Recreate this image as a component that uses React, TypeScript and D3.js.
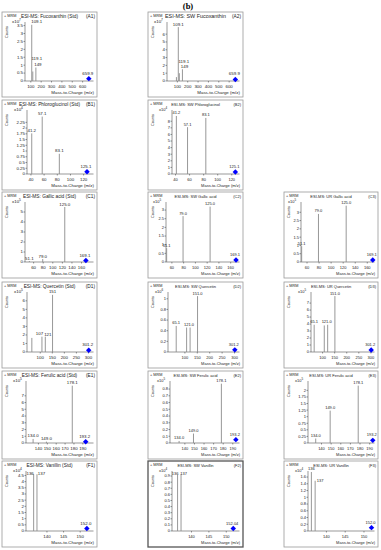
import * as d3 from "d3";

type Peak = { mz: number; v: number; label?: string };

// (A) fucoxanthin
const a1Peaks: Peak[] = [
  { mz: 109.1, v: 3.55, label: "109.1" },
  { mz: 119.1, v: 0.6, label: "119.1" },
  { mz: 149, v: 0.85, label: "149" },
];
const a1Parent: Peak = { mz: 659.9, v: 0.15, label: "659.9" };
const a2Peaks: Peak[] = [
  { mz: 91, v: 0.5 },
  { mz: 109.1, v: 6.9, label: "109.1" },
  { mz: 119.1, v: 1.0, label: "119.1" },
  { mz: 149, v: 1.5, label: "149" },
];
const a2Parent: Peak = { mz: 659.9, v: 0.2, label: "659.9" };

// (B) phloroglucinol
const b1Peaks: Peak[] = [
  { mz: 41.2, v: 1.77, label: "41.2" },
  { mz: 57.1, v: 2.5, label: "57.1" },
  { mz: 83.1, v: 0.88, label: "83.1" },
];
const b1Parent: Peak = { mz: 125.1, v: 0.1, label: "125.1" };
const b2Peaks: Peak[] = [
  { mz: 41.2, v: 8.8, label: "41.2" },
  { mz: 57.1, v: 7.1, label: "57.1" },
  { mz: 83.1, v: 8.5, label: "83.1" },
];
const b2Parent: Peak = { mz: 125.1, v: 0.3, label: "125.1" };

// (C) gallic acid
const c1Peaks: Peak[] = [
  { mz: 51.1, v: 0.1, label: "51.1" },
  { mz: 79.0, v: 0.3, label: "79.0" },
  { mz: 125.0, v: 5.5, label: "125.0" },
];
const c1Parent: Peak = { mz: 169.1, v: 0.15, label: "169.1" };
const c2Peaks: Peak[] = [
  { mz: 51.1, v: 0.8, label: "51.1" },
  { mz: 79.0, v: 2.65, label: "79.0" },
  { mz: 125.0, v: 3.2, label: "125.0" },
];
const c2Parent: Peak = { mz: 169.1, v: 0.12, label: "169.1" };
const c3Peaks: Peak[] = [
  { mz: 51.1, v: 0.95, label: "51.1" },
  { mz: 79.0, v: 2.9, label: "79.0" },
  { mz: 125.0, v: 3.4, label: "125.0" },
];
const c3Parent: Peak = { mz: 169.1, v: 0.12, label: "169.1" };

// (D) quercetin
const d1Peaks: Peak[] = [
  { mz: 65.1, v: 1.65 },
  { mz: 107, v: 1.8, label: "107" },
  { mz: 121, v: 1.8, label: "121" },
  { mz: 151, v: 6.7, label: "151" },
];
const d1Parent: Peak = { mz: 301.2, v: 0.2, label: "301.2" };
const d2Peaks: Peak[] = [
  { mz: 65.1, v: 0.49, label: "65.1" },
  { mz: 107, v: 0.46 },
  { mz: 121.0, v: 0.46, label: "121.0" },
  { mz: 151.0, v: 1.05, label: "151.0" },
];
const d2Parent: Peak = { mz: 301.2, v: 0.04, label: "301.2" };
const d3Peaks: Peak[] = [
  { mz: 65.1, v: 3.9, label: "65.1" },
  { mz: 107, v: 3.8 },
  { mz: 121.0, v: 3.9, label: "121.0" },
  { mz: 151.0, v: 8.0, label: "151.0" },
];
const d3Parent: Peak = { mz: 301.2, v: 0.3, label: "301.2" };

// (E) ferulic acid
const e1Peaks: Peak[] = [
  { mz: 134.0, v: 0.6, label: "134.0" },
  { mz: 149.0, v: 0.2, label: "149.0" },
  { mz: 178.1, v: 8.5, label: "178.1" },
];
const e1Parent: Peak = { mz: 193.2, v: 0.2, label: "193.2" };
const e2Peaks: Peak[] = [
  { mz: 134.0, v: 0.03, label: "134.0" },
  { mz: 149.0, v: 0.14, label: "149.0" },
  { mz: 178.1, v: 0.88, label: "178.1" },
];
const e2Parent: Peak = { mz: 193.2, v: 0.05, label: "193.2" };
const e3Peaks: Peak[] = [
  { mz: 134.0, v: 0.17, label: "134.0" },
  { mz: 149.0, v: 1.23, label: "149.0" },
  { mz: 178.1, v: 2.18, label: "178.1" },
];
const e3Parent: Peak = { mz: 193.2, v: 0.1, label: "193.2" };

// (F) vanillin
const f1Peaks: Peak[] = [
  { mz: 136, v: 4.6, label: "136" },
  { mz: 137, v: 4.6, label: "137" },
];
const f1Parent: Peak = { mz: 152.0, v: 0.2, label: "152.0" };
const f2Peaks: Peak[] = [
  { mz: 136, v: 0.92, label: "136" },
  { mz: 137, v: 0.93, label: "137" },
];
const f2Parent: Peak = { mz: 152.0, v: 0.04, label: "152.04" };
const f3Peaks: Peak[] = [
  { mz: 136, v: 1.75, label: "136" },
  { mz: 137, v: 1.49, label: "137" },
];
const f3Parent: Peak = { mz: 152.0, v: 0.1, label: "152.0" };

// axis ticks
const xTicksA = [100, 200, 300, 400, 500, 600];
const xTicksB = [40, 60, 80, 100, 120];
const xTicksC = [60, 80, 100, 120, 140, 160];
const xTicksD = [100, 150, 200, 250, 300];
const xTicksE = [140, 150, 160, 170, 180, 190];
const xTicksF = [140, 145, 150];
const yTicksA1 = [0, 0.5, 1, 1.5, 2, 2.5, 3, 3.5];
const yTicksA2 = [0, 1, 2, 3, 4, 5, 6];
const yTicksB1 = [0, 0.25, 0.5, 0.75, 1, 1.25, 1.5, 1.75, 2, 2.25];
const yTicksB2 = [0, 1, 2, 3, 4, 5, 6, 7, 8];
const yTicksC1 = [0, 1, 2, 3, 4, 5];
const yTicksC2 = [0, 0.5, 1, 1.5, 2, 2.5, 3];
const yTicksD1 = [0, 1, 2, 3, 4, 5, 6];
const yTicksD2 = [0, 0.2, 0.4, 0.6, 0.8, 1];
const yTicksD3 = [0, 1, 2, 3, 4, 5, 6, 7];
const yTicksE1 = [0, 1, 2, 3, 4, 5, 6, 7];
const yTicksE2 = [0, 0.1, 0.2, 0.3, 0.4, 0.5, 0.6, 0.7, 0.8];
const yTicksE3 = [0, 0.25, 0.5, 0.75, 1, 1.25, 1.5, 1.75, 2];
const yTicksF1 = [0, 0.5, 1, 1.5, 2, 2.5, 3, 3.5, 4, 4.5];
const yTicksF2 = [0, 0.1, 0.2, 0.3, 0.4, 0.5, 0.6, 0.7, 0.8, 0.9];
const yTicksF3 = [0, 0.2, 0.4, 0.6, 0.8, 1, 1.2, 1.4, 1.6];

interface PanelSpec {
  id: string;
  row: number;
  col: number;
  title: string;
  exp: number;
  xDomain: [number, number];
  xTicks: number[];
  yMax: number;
  yTicks: number[];
  peaks: Peak[];
  parent: Peak;
}

const panels: PanelSpec[] = [
  { id: "A1", row: 0, col: 0, title: "ESI-MS: Fucoxanthin (Std)", exp: 7, xDomain: [44, 705], xTicks: xTicksA, yMax: 3.6, yTicks: yTicksA1, peaks: a1Peaks, parent: a1Parent },
  { id: "A2", row: 0, col: 1, title: "ESI-MS: SW Fucoxanthin", exp: 7, xDomain: [0, 700], xTicks: xTicksA, yMax: 7.3, yTicks: yTicksA2, peaks: a2Peaks, parent: a2Parent },
  { id: "B1", row: 1, col: 0, title: "ESI-MS: Phloroglucinol (Std)", exp: 4, xDomain: [34, 135], xTicks: xTicksB, yMax: 2.7, yTicks: yTicksB1, peaks: b1Peaks, parent: b1Parent },
  { id: "B2", row: 1, col: 1, title: "ESI-MS: SW Phloroglucinol", exp: 4, xDomain: [35, 131], xTicks: xTicksB, yMax: 9.4, yTicks: yTicksB2, peaks: b2Peaks, parent: b2Parent },
  { id: "C1", row: 2, col: 0, title: "ESI-MS: Gallic acid (Std)", exp: 5, xDomain: [42, 185], xTicks: xTicksC, yMax: 5.8, yTicks: yTicksC1, peaks: c1Peaks, parent: c1Parent },
  { id: "C2", row: 2, col: 1, title: "ESI-MS: SW Gallic acid", exp: 5, xDomain: [50, 175], xTicks: xTicksC, yMax: 3.35, yTicks: yTicksC2, peaks: c2Peaks, parent: c2Parent },
  { id: "C3", row: 2, col: 2, title: "ESI-MS: UR Gallic acid", exp: 5, xDomain: [50, 172], xTicks: xTicksC, yMax: 3.5, yTicks: yTicksC2, peaks: c3Peaks, parent: c3Parent },
  { id: "D1", row: 3, col: 0, title: "ESI-MS: Quercetin (Std)", exp: 5, xDomain: [45, 321], xTicks: xTicksD, yMax: 6.8, yTicks: yTicksD1, peaks: d1Peaks, parent: d1Parent },
  { id: "D2", row: 3, col: 1, title: "ESI-MS: SW Quercetin", exp: 6, xDomain: [32, 320], xTicks: xTicksD, yMax: 1.09, yTicks: yTicksD2, peaks: d2Peaks, parent: d2Parent },
  { id: "D3", row: 3, col: 2, title: "ESI-MS: UR Quercetin", exp: 5, xDomain: [52, 315], xTicks: xTicksD, yMax: 8.3, yTicks: yTicksD3, peaks: d3Peaks, parent: d3Parent },
  { id: "E1", row: 4, col: 0, title: "ESI-MS: Ferulic acid (Std)", exp: 5, xDomain: [126, 202], xTicks: xTicksE, yMax: 8.9, yTicks: yTicksE1, peaks: e1Peaks, parent: e1Parent },
  { id: "E2", row: 4, col: 1, title: "ESI-MS: SW Ferulic acid", exp: 5, xDomain: [124.5, 197], xTicks: xTicksE, yMax: 0.89, yTicks: yTicksE2, peaks: e2Peaks, parent: e2Parent },
  { id: "E3", row: 4, col: 2, title: "ESI-MS: UR Ferulic acid", exp: 5, xDomain: [126, 195], xTicks: xTicksE, yMax: 2.28, yTicks: yTicksE3, peaks: e3Peaks, parent: e3Parent },
  { id: "F1", row: 5, col: 0, title: "ESI-MS: Vanillin (Std)", exp: 4, xDomain: [133.7, 154], xTicks: xTicksF, yMax: 4.7, yTicks: yTicksF1, peaks: f1Peaks, parent: f1Parent },
  { id: "F2", row: 5, col: 1, title: "ESI-MS: SW Vanillin", exp: 4, xDomain: [134.4, 153.8], xTicks: xTicksF, yMax: 0.95, yTicks: yTicksF2, peaks: f2Peaks, parent: f2Parent },
  { id: "F3", row: 5, col: 2, title: "ESI-MS: UR Vanillin", exp: 4, xDomain: [135.1, 152.8], xTicks: xTicksF, yMax: 1.72, yTicks: yTicksF3, peaks: f3Peaks, parent: f3Parent },
];

// layout (pixels)
const cols: [number, number][] = [[2, 97], [148, 243], [284, 378]];
const rows: [number, number][] = [[12, 97], [100, 190], [192, 278], [282, 368], [371, 459], [461, 547]];
const plotLeftX: Record<string, number> = {
  A1: 25, A2: 167, B1: 27, B2: 172, C1: 25, C2: 166, C3: 301,
  D1: 27, D2: 168, D3: 311, E1: 26, E2: 170, E3: 308, F1: 26, F2: 172, F3: 308,
};
// small label shifts where peak labels would collide
const nudges: Record<string, [number, number]> = {
  "A1:109.1": [5, 0],
  "A1:119.1": [4, -10],
  "A1:149": [2, 0],
  "A2:119.1": [4.5, -9],
  "A2:149": [2, 0],
  "D1:107": [-2.5, 0],
  "D1:121": [2.5, 1],
  "D2:121.0": [-1, 0],
  "D3:121.0": [-1, 0],
  "F1:136": [-3.5, 2],
  "F1:137": [4.5, 2],
  "F2:136": [-2.5, 2],
  "F2:137": [2.5, 2],
  "F3:136": [0, 0],
  "F3:137": [5, 3],
};

const FONT = "'Liberation Sans', Arial, sans-serif";
const square = d3.symbol(d3.symbolSquare, 15)() ?? "";

function Panel({ p }: { p: PanelSpec }) {
  const [x0, x1] = cols[p.col];
  const [y0, y1] = rows[p.row];
  const left = plotLeftX[p.id];
  const right = x1 - 3.5;
  const top = y0 + 12;
  const base = y1 - 16;
  const x = d3.scaleLinear().domain(p.xDomain).range([left, right]);
  const y = d3.scaleLinear().domain([0, p.yMax]).range([base, top]);
  const small = p.col > 0 && p.row > 0;
  const fs = small ? 4 : 4.4;
  const titleFs = p.id === "A2" ? 5.4 : small ? 4 : 4.8;
  const strong = p.id === "F2";

  return (
    <g fontFamily={FONT} fill="#222">
      <rect
        x={x0}
        y={y0}
        width={x1 - x0}
        height={y1 - y0}
        fill="#fff"
        stroke={strong ? "#555" : "#9a9a9a"}
        strokeWidth={strong ? 1.3 : 0.8}
      />
      <text x={x0 + 2} y={y0 + 5} fontSize={3.8}>
        + MRM
      </text>
      <text x={x0 + (x1 - x0) * 0.5} y={y0 + 6} fontSize={titleFs} textAnchor="middle">
        {p.title}
      </text>
      <text x={x1 - 2} y={y0 + 6} fontSize={small ? 4 : 4.8} textAnchor="end">
        ({p.id})
      </text>
      <text
        transform={`translate(${x0 + 6},${y0 + 20}) rotate(-90)`}
        fontSize={3.8}
        textAnchor="middle"
      >
        Counts
      </text>
      <text x={left - 13} y={y0 + 11} fontSize={fs}>
        x10
        <tspan dy={-1.6} fontSize={fs * 0.75}>
          {p.exp}
        </tspan>
      </text>

      {/* y axis */}
      <line x1={left} x2={left} y1={top - 2} y2={base} stroke="#333" strokeWidth={0.5} />
      {p.yTicks.map((t) => (
        <g key={`y${t}`}>
          <line x1={left - 1.5} x2={left} y1={y(t)} y2={y(t)} stroke="#333" strokeWidth={0.5} />
          <text x={left - 2} y={y(t) + 1.4} fontSize={fs} textAnchor="end">
            {String(t)}
          </text>
        </g>
      ))}

      {/* x axis */}
      <line x1={left} x2={right} y1={base} y2={base} stroke="#333" strokeWidth={0.5} />
      {p.xTicks.map((t) => (
        <g key={`x${t}`}>
          <line x1={x(t)} x2={x(t)} y1={base} y2={base + 1.5} stroke="#333" strokeWidth={0.5} />
          <text x={x(t)} y={base + 6.5} fontSize={fs} textAnchor="middle">
            {String(t)}
          </text>
        </g>
      ))}
      <text x={x1 - 3} y={y1 - 3} fontSize={fs} textAnchor="end">
        Mass-to-Charge (m/z)
      </text>

      {/* peaks */}
      {p.peaks.map((pk) => (
        <line
          key={`p${pk.mz}`}
          x1={x(pk.mz)}
          x2={x(pk.mz)}
          y1={base}
          y2={y(pk.v)}
          stroke="#8c8c8c"
          strokeWidth={0.9}
        />
      ))}
      {p.peaks
        .filter((pk) => pk.label)
        .map((pk) => {
          const [dx, dy] = nudges[`${p.id}:${pk.label}`] ?? [0, 0];
          return (
            <text
              key={`l${pk.mz}`}
              x={x(pk.mz) + dx}
              y={y(pk.v) - 1.5 + dy}
              fontSize={fs}
              textAnchor="middle"
            >
              {pk.label}
            </text>
          );
        })}

      {/* precursor */}
      <path
        d={square}
        transform={`translate(${x(p.parent.mz)},${y(p.parent.v)}) rotate(45)`}
        fill="#0000ff"
      />
      <text
        x={x(p.parent.mz) - 1}
        y={y(p.parent.v) - 4}
        fontSize={fs}
        textAnchor="middle"
      >
        {p.parent.label}
      </text>
    </g>
  );
}

export default function App() {
  return (
    <svg
      width={381}
      height={550}
      style={{ position: "absolute", left: 0, top: 0, background: "#fff" }}
    >
      <rect width={381} height={550} fill="#fff" />
      <text
        x={188}
        y={9}
        fontSize={8.5}
        fontWeight="bold"
        fontFamily="'Liberation Serif', serif"
        textAnchor="middle"
      >
        (b)
      </text>
      {panels.map((p) => (
        <Panel key={p.id} p={p} />
      ))}
    </svg>
  );
}
